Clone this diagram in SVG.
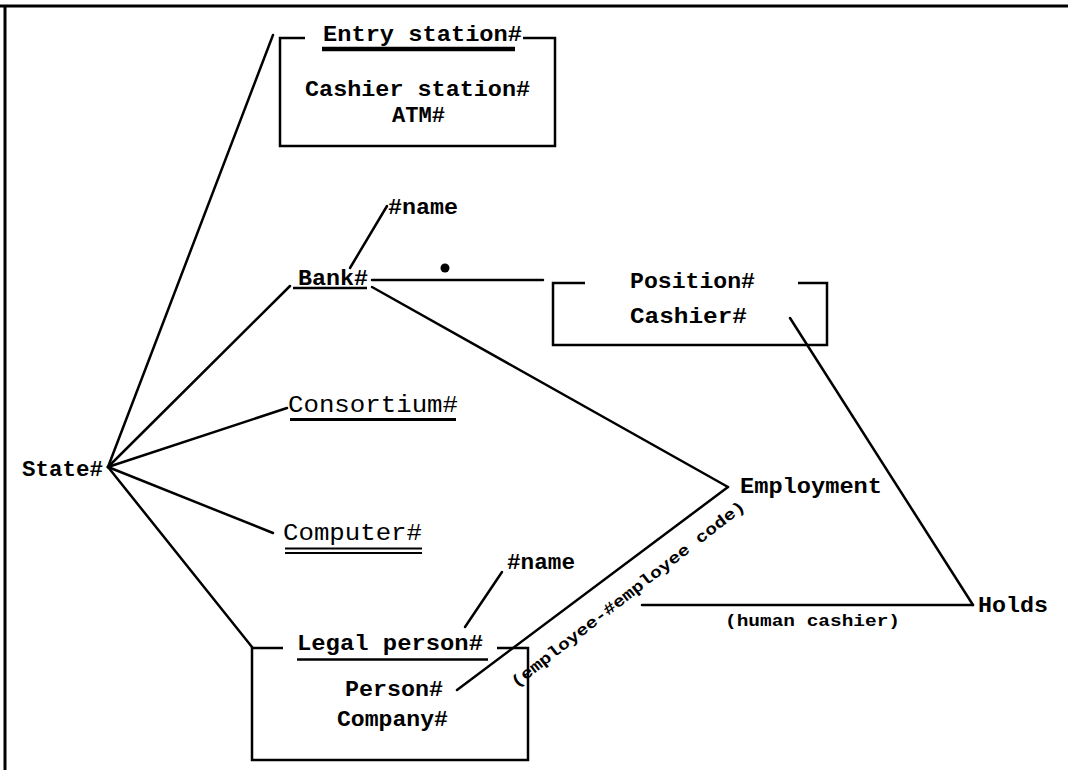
<svg xmlns="http://www.w3.org/2000/svg" width="1068" height="770" viewBox="0 0 1068 770">
  <style>
    .ln { stroke: #000; stroke-width: 2.5; fill: none; stroke-linecap: round; }
    .bx { stroke: #000; stroke-width: 2.5; fill: none; }
    .t { font-family: "Liberation Mono", "DejaVu Sans Mono", monospace; font-size: 22px; fill: #000; font-weight: bold; }
    .tb { font-family: "Liberation Mono", "DejaVu Sans Mono", monospace; font-size: 22px; fill: #000; font-weight: bold; }
    .tl { font-family: "Liberation Mono", "DejaVu Sans Mono", monospace; font-size: 24px; fill: #000; }
    .ts { font-family: "Liberation Mono", "DejaVu Sans Mono", monospace; font-size: 16px; fill: #000; font-weight: bold; }
    .ul { stroke: #000; fill: none; }
  </style>
  <rect width="1068" height="770" fill="#fff"/>

  <!-- page frame -->
  <g id="frame">
    <line x1="0" y1="6" x2="1068" y2="6" stroke="#000" stroke-width="3"/>
    <line x1="5" y1="6" x2="5" y2="770" stroke="#000" stroke-width="3"/>
  </g>

  <!-- connectors -->
  <g id="connectors">
    <line class="ln" x1="108" y1="467" x2="273" y2="35"/>
    <line class="ln" x1="108" y1="467" x2="290" y2="286"/>
    <line class="ln" x1="108" y1="467" x2="287" y2="408"/>
    <line class="ln" x1="108" y1="467" x2="273" y2="533"/>
    <line class="ln" x1="108" y1="467" x2="252" y2="647"/>
    <line class="ln" x1="350" y1="268" x2="387" y2="206"/>
    <line class="ln" x1="372" y1="280" x2="543" y2="280"/>
    <circle cx="445" cy="268" r="4.5" fill="#000"/>
    <line class="ln" x1="372" y1="287" x2="728" y2="487"/>
    <line class="ln" x1="457" y1="690" x2="728" y2="487"/>
    <line class="ln" x1="465" y1="627" x2="502" y2="572"/>
    <line class="ln" x1="790" y1="318" x2="973" y2="605"/>
    <line class="ln" x1="642" y1="605" x2="973" y2="605"/>
    <text class="ts" x="0" y="0" textLength="292" lengthAdjust="spacingAndGlyphs" transform="translate(516 688) rotate(-38)">(employee-#employee code)</text>
    <text class="ts" x="725" y="626" textLength="175" lengthAdjust="spacingAndGlyphs">(human cashier)</text>
  </g>

  <!-- Entry station group -->
  <g id="entry-station">
    <polyline class="bx" points="305,38 280,38 280,146 555,146 555,38 523,38"/>
    <text class="t" x="323" y="41" textLength="199" lengthAdjust="spacingAndGlyphs">Entry station#</text>
    <line class="ul" x1="322" y1="49" x2="515" y2="49" stroke-width="4.5"/>
    <text class="tb" x="305" y="96" textLength="225" lengthAdjust="spacingAndGlyphs">Cashier station#</text>
    <text class="tb" x="392" y="122" textLength="53" lengthAdjust="spacingAndGlyphs">ATM#</text>
  </g>

  <g id="bank">
    <text class="t" x="298" y="285" textLength="70" lengthAdjust="spacingAndGlyphs">Bank#</text>
    <line class="ul" x1="293" y1="288" x2="367" y2="288" stroke-width="2.5"/>
  </g>

  <g id="bank-name">
    <text class="tb" x="388" y="214" textLength="70" lengthAdjust="spacingAndGlyphs">#name</text>
  </g>

  <g id="position">
    <polyline class="bx" points="585,283 553,283 553,345 827,345 827,283 798,283"/>
    <text class="t" x="630" y="288" textLength="125" lengthAdjust="spacingAndGlyphs">Position#</text>
    <text class="t" x="630" y="323" textLength="117" lengthAdjust="spacingAndGlyphs">Cashier#</text>
  </g>

  <g id="state">
    <text class="t" x="22" y="476" textLength="81" lengthAdjust="spacingAndGlyphs">State#</text>
  </g>

  <g id="consortium">
    <text class="tl" x="288" y="412" textLength="170" lengthAdjust="spacingAndGlyphs">Consortium#</text>
    <line class="ul" x1="290" y1="419.5" x2="456" y2="419.5" stroke-width="3"/>
  </g>

  <g id="computer">
    <text class="tl" x="283" y="540" textLength="139" lengthAdjust="spacingAndGlyphs">Computer#</text>
    <line class="ul" x1="285" y1="548.5" x2="422" y2="548.5" stroke-width="2"/>
    <line class="ul" x1="285" y1="553" x2="422" y2="553" stroke-width="2"/>
  </g>

  <g id="legal-person">
    <polyline class="bx" points="283,648 252,648 252,760 528,760 528,648 497,648"/>
    <text class="t" x="297" y="650" textLength="186" lengthAdjust="spacingAndGlyphs">Legal person#</text>
    <line class="ul" x1="297" y1="659.5" x2="488" y2="659.5" stroke-width="2.5"/>
    <text class="tb" x="345" y="696" textLength="98" lengthAdjust="spacingAndGlyphs">Person#</text>
    <text class="tb" x="337" y="726" textLength="111" lengthAdjust="spacingAndGlyphs">Company#</text>
  </g>

  <g id="person-name">
    <text class="tb" x="507" y="569" textLength="68" lengthAdjust="spacingAndGlyphs">#name</text>
  </g>

  <g id="employment">
    <text class="tb" x="740" y="493" textLength="142" lengthAdjust="spacingAndGlyphs">Employment</text>
  </g>

  <g id="holds">
    <text class="tb" x="978" y="612" textLength="70" lengthAdjust="spacingAndGlyphs">Holds</text>
  </g>
</svg>
